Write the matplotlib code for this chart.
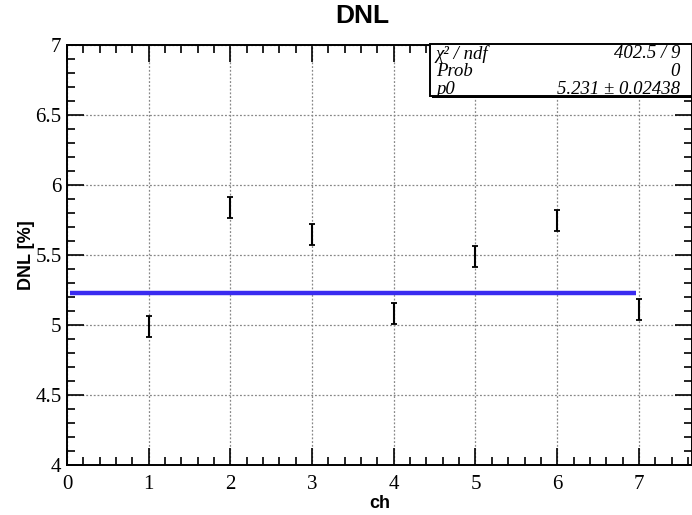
import matplotlib
matplotlib.use("Agg")
import matplotlib.pyplot as plt
from matplotlib.ticker import MultipleLocator

channels = [1, 2, 3, 4, 5, 6, 7]
dnl_values = [4.99, 5.836, 5.65, 5.08, 5.49, 5.75, 5.11]
dnl_errors = [0.075, 0.075, 0.075, 0.075, 0.075, 0.075, 0.075]
fit_p0 = 5.231
fit_range = [0.04, 6.97]
stat_labels = ["χ² / ndf", "Prob", "p0"]
stat_values = ["402.5 / 9", "0", "5.231 ± 0.02438"]

fig = plt.figure(figsize=(6.92, 5.15), dpi=100)
ax = fig.add_axes([67/692, 1-465/515, 1-67/692, (465-45)/515])

ax.set_xlim(0, 7.65)
ax.set_ylim(4, 7)

ax.grid(True, which="major", linestyle=(0, (1.5, 1.5)), color="#888888", linewidth=0.9)
ax.set_axisbelow(True)

ax.plot(fit_range, [fit_p0, fit_p0], color="#3a2bf0", linewidth=3.2, solid_capstyle="butt", zorder=3)
ax.errorbar(channels, dnl_values, yerr=dnl_errors, fmt="none", ecolor="black",
            elinewidth=1.5, capsize=2.5, capthick=1.3, zorder=4)

ax.xaxis.set_major_locator(MultipleLocator(1))
ax.xaxis.set_minor_locator(MultipleLocator(0.2))
ax.yaxis.set_major_locator(MultipleLocator(0.5))
ax.yaxis.set_minor_locator(MultipleLocator(0.1))
ax.tick_params(which="both", direction="in", top=True, right=True, width=1.2, color="black")
ax.tick_params(which="major", length=12)
ax.tick_params(which="minor", length=6)
ax.tick_params(axis="x", pad=7)
ax.tick_params(axis="y", pad=4)
ax.set_yticks([4, 4.5, 5, 5.5, 6, 6.5, 7])
ax.set_yticklabels(["4", "4.5", "5", "5.5", "6", "6.5", "7"], fontfamily="Liberation Serif", fontsize=15)
ax.set_xticks(range(0, 8))
ax.set_xticklabels([str(i) for i in range(0, 8)], fontfamily="Liberation Serif", fontsize=15)
for sp in ax.spines.values():
    sp.set_linewidth(1.4)

ax.set_xlabel("ch", fontfamily="Liberation Sans", fontweight="bold", fontsize=13, labelpad=1)
ax.set_ylabel("DNL [%]", fontfamily="Liberation Sans", fontweight="bold", fontsize=13, labelpad=0)
fig.text(362/692, 1-16/515, "DNL", ha="center", va="center", fontfamily="Liberation Sans",
         fontweight="bold", fontsize=19)

# stat box
bx0, by0, bx1, by1 = 430/692, 1-96/515, 1.0, 1-44/515
box = plt.Rectangle((bx0, by0), bx1-bx0, by1-by0, transform=fig.transFigure,
                    facecolor="white", edgecolor="black", linewidth=1.4, zorder=10)
fig.add_artist(box)
shadow = plt.Rectangle((bx0 + 2/692, by0 - 2/515), bx1-bx0, 2/515, transform=fig.transFigure,
                       facecolor="black", edgecolor="none", zorder=9)
fig.add_artist(shadow)
rows_y = [1-54/515, 1-72/515, 1-89/515]
for lab, val, yy in zip(stat_labels, stat_values, rows_y):
    fig.text(436/692, yy, lab, ha="left", va="center", fontfamily="Liberation Serif",
             style="italic", fontsize=13.5, zorder=11)
    fig.text(680/692, yy, val, ha="right", va="center", fontfamily="Liberation Serif",
             style="italic", fontsize=13.5, zorder=11)

fig.savefig("out.png", dpi=100)
